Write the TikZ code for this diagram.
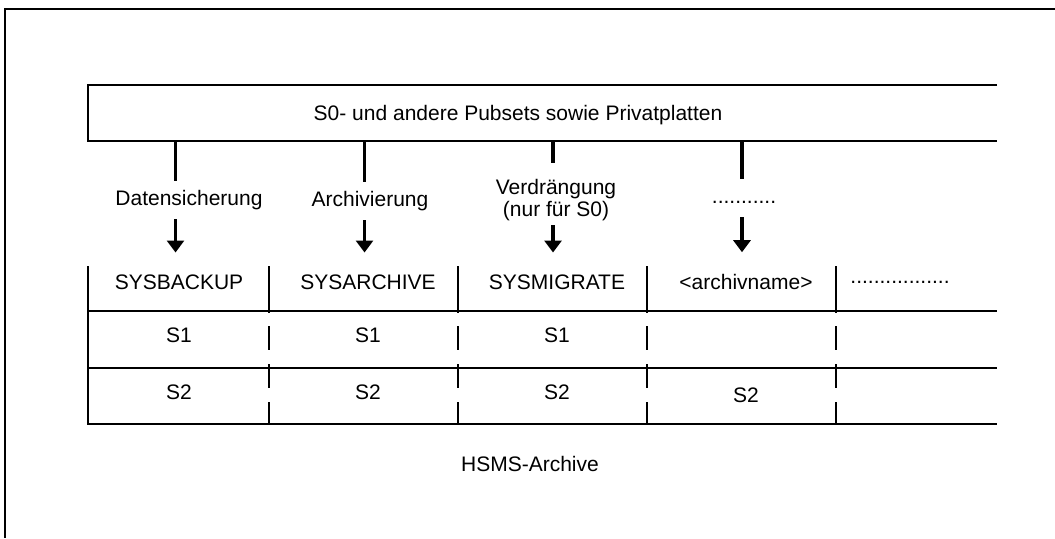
\documentclass[tikz,border=0pt]{standalone}
\usepackage{fontspec}
\setmainfont{Liberation Sans}
\usetikzlibrary{positioning,arrows.meta}

\begin{document}
\begin{tikzpicture}[x=0.5pt,y=-0.5pt,node distance=94.5pt,on grid,
    every node/.style={font=\fontsize{10.5}{12.6}\selectfont},
    pageline/.style={line width=0.9pt},
    srcbox/.style={line width=1.45pt},
    tabline/.style={line width=1.3pt},
    tabcut/.style={tabline,dash pattern=on 12pt off 7pt,dash phase=12.5pt},
    lane/.style={line width=1.6pt},
    lab/.style={text height=8.8pt,text depth=3.8pt,inner ysep=3pt},
    >={Triangle[width=8.5pt,length=6pt]}]
    \useasboundingbox (0,0) rectangle (1055,538);
    \draw[pageline] (1055,9) -- (5,9) -- (5,538);
    % Pubsets box, open to the right
    \draw[srcbox] (997,85) -- (88,85) -- (88,141) -- (997,141);
    \node (src) at (518,115) {S0- und andere Pubsets sowie Privatplatten};
    \coordinate (p1) at (175.5,141);
    \coordinate (p2) at (364.5,141);
    \coordinate (p3) at (553,141);
    \coordinate (p4) at (742,141);
    \node[lab] (l1) at (189,200) {Datensicherung};
    \node[lab] (l2) at (370,201) {Archivierung};
    \node[align=center,inner sep=0pt,font=\fontsize{10.5}{11}\selectfont] (l3) at (556,200.5) {Verdrängung\\(nur für S0)};
    \node[lab] (l4) at (744,198) {...........};
    % archive table
    \node (hd1) at (179,282) {SYSBACKUP};
    \node (hd2) [right=of hd1] {SYSARCHIVE};
    \node (hd3) [right=of hd2] {SYSMIGRATE};
    \node (hd4) [right=of hd3] {<archivname>};
    \node (hd5) at (900,282) {.................};
    \node (s1a) [below=26.5pt of hd1] {S1};
    \node (s1b) [below=26.5pt of hd2] {S1};
    \node (s1c) [below=26.5pt of hd3] {S1};
    \node (s2a) [below=28.5pt of s1a] {S2};
    \node (s2b) [below=28.5pt of s1b] {S2};
    \node (s2c) [below=28.5pt of s1c] {S2};
    \node (s2d) [below=56.5pt of hd4] {S2};
    \node (arch) at (530,464) {HSMS-Archive};
    \path[lane]
    (p1) edge (p1 |- l1.north)
    (p2) edge (p2 |- l2.north)
    (p3) edge [shorten >=8.3pt] (p3 |- l3.north)
    (p4) edge (p4 |- l4.north)
    ; %end path
    \path[lane,->,shorten >=7.5pt]
    (p1 |- l1.south) edge (p1 |- hd1.north)
    (p2 |- l2.south) edge (p2 |- hd2.north)
    (p3 |- l3.south) edge [shorten <=1.8pt] (p3 |- hd3.north)
    (p4 |- l4.south) edge (p4 |- hd4.north)
    ; %end path
    \draw[tabline] (88,266) -- (88,424) -- (997,424);
    \draw[tabline] (88,311) -- (997,311) (88,368) -- (997,368);
    \draw[tabline] (269,266) -- (269,313) (458,266) -- (458,313) (647,266) -- (647,313) (836,266) -- (836,313);
    \draw[tabcut] (269,313) -- (269,424) (458,313) -- (458,424) (647,313) -- (647,424) (836,313) -- (836,424);
\end{tikzpicture}
\end{document}
